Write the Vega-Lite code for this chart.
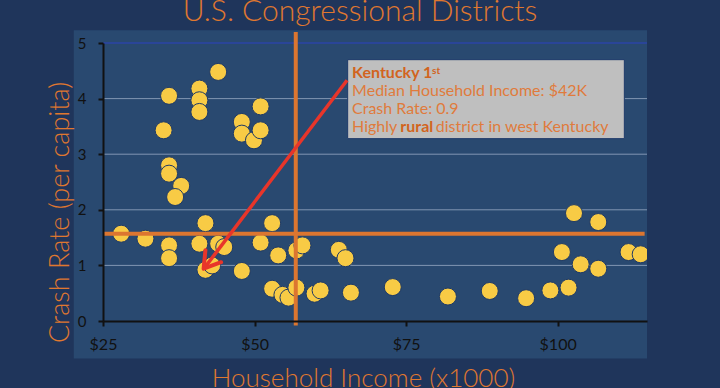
{
  "$schema": "https://vega.github.io/schema/vega-lite/v6.json",
  "width": 544,
  "height": 278,
  "autosize": {"type": "none"},
  "padding": {"left": 103, "top": 43, "right": 73, "bottom": 67},
  "background": "#1f355b",
  "title": {"text": "U.S. Congressional Districts", "font": "Lato", "fontSize": 30, "fontWeight": 300, "color": "#e0782f", "anchor": "middle", "frame": "group", "dx": -15, "dy": 28, "baseline": "alphabetic", "offset": 7},
  "config": {"view": {"stroke": null}},
  "layer": [
    {
      "data": {"values": [{}]},
      "mark": {"type": "rect", "fill": "#294970"},
      "encoding": {
        "x": {"datum": 20.18},
        "x2": {"datum": 114.74},
        "y": {"datum": 5.23},
        "y2": {"datum": -0.676}
      }
    },
    {
      "data": {"values": [{"g": 1}, {"g": 2}, {"g": 3}, {"g": 4}]},
      "mark": {"type": "rule", "color": "#8196b2", "strokeWidth": 1},
      "encoding": {"y": {"field": "g", "type": "quantitative"}}
    },
    {
      "data": {"values": [{}]},
      "mark": {"type": "rule", "color": "#2b44a6", "strokeWidth": 1.5},
      "encoding": {"y": {"datum": 5}}
    },
    {
      "data": {"values": [
        {"income": 28.0, "crash": 1.57}, {"income": 32.0, "crash": 1.48}, {"income": 35.9, "crash": 1.36}, {"income": 35.9, "crash": 1.13},
        {"income": 35.9, "crash": 4.05}, {"income": 35.0, "crash": 3.43}, {"income": 35.9, "crash": 2.80}, {"income": 35.9, "crash": 2.65},
        {"income": 37.9, "crash": 2.43}, {"income": 36.9, "crash": 2.23}, {"income": 40.9, "crash": 4.18}, {"income": 40.9, "crash": 3.97},
        {"income": 40.9, "crash": 3.76}, {"income": 44.0, "crash": 4.48}, {"income": 41.9, "crash": 1.76}, {"income": 40.9, "crash": 1.39},
        {"income": 44.0, "crash": 1.39}, {"income": 45.0, "crash": 1.33}, {"income": 41.9, "crash": 0.92}, {"income": 43.0, "crash": 1.00},
        {"income": 47.9, "crash": 0.90}, {"income": 47.9, "crash": 3.58}, {"income": 47.9, "crash": 3.37}, {"income": 49.9, "crash": 3.25},
        {"income": 51.0, "crash": 3.43}, {"income": 51.0, "crash": 3.86}, {"income": 51.0, "crash": 1.41}, {"income": 52.9, "crash": 1.76},
        {"income": 53.9, "crash": 1.18}, {"income": 52.9, "crash": 0.58}, {"income": 54.6, "crash": 0.47}, {"income": 55.6, "crash": 0.42},
        {"income": 56.9, "crash": 0.60}, {"income": 56.9, "crash": 1.27}, {"income": 57.9, "crash": 1.36}, {"income": 59.9, "crash": 0.49},
        {"income": 60.9, "crash": 0.55}, {"income": 63.9, "crash": 1.28}, {"income": 65.0, "crash": 1.13}, {"income": 65.9, "crash": 0.51},
        {"income": 72.8, "crash": 0.61}, {"income": 81.9, "crash": 0.44}, {"income": 88.8, "crash": 0.54}, {"income": 94.8, "crash": 0.41},
        {"income": 98.8, "crash": 0.55}, {"income": 101.8, "crash": 0.60}, {"income": 100.7, "crash": 1.24}, {"income": 103.8, "crash": 1.02},
        {"income": 106.7, "crash": 0.94}, {"income": 102.7, "crash": 1.94}, {"income": 106.7, "crash": 1.78}, {"income": 111.7, "crash": 1.24},
        {"income": 113.7, "crash": 1.20}
      ]},
      "mark": {"type": "circle", "size": 290, "opacity": 1, "color": "#f8cb45", "stroke": "#1f3a66", "strokeWidth": 1, "clip": true},
      "encoding": {
        "x": {
          "field": "income", "type": "quantitative",
          "scale": {"domain": [25, 114.74], "nice": false, "zero": false},
          "axis": {
            "values": [25, 50, 75, 100], "labelExpr": "'$' + datum.value", "labelFlush": false,
            "title": "Household Income (x1000)", "grid": false, "zindex": 1,
            "domainColor": "#111111", "domainWidth": 2, "tickColor": "#111111", "tickWidth": 2, "tickSize": 5,
            "labelColor": "#111111", "labelFont": "Lato", "labelFontSize": 16, "labelPadding": 10,
            "titleFont": "Lato", "titleFontSize": 26, "titleFontWeight": 300, "titleColor": "#e0782f",
            "titleX": 260, "titleY": 65, "titleBaseline": "alphabetic", "titleAlign": "center"
          }
        },
        "y": {
          "field": "crash", "type": "quantitative",
          "scale": {"domain": [0, 5], "nice": false},
          "axis": {
            "values": [0, 1, 2, 3, 4, 5], "labelFlush": false,
            "title": "Crash Rate (per capita)", "grid": false, "zindex": 1,
            "domainColor": "#111111", "domainWidth": 2, "tickColor": "#111111", "tickWidth": 2, "tickSize": 5,
            "labelColor": "#111111", "labelFont": "Lato", "labelFontSize": 15, "labelPadding": 12,
            "titleFont": "Lato", "titleFontSize": 27, "titleFontWeight": 300, "titleColor": "#e0782f",
            "titleAngle": -90, "titleX": -34.5, "titleY": 169, "titleBaseline": "alphabetic", "titleAlign": "center"
          }
        }
      }
    },
    {
      "data": {"values": [{}]},
      "mark": {"type": "rule", "color": "#dc7630", "strokeWidth": 4},
      "encoding": {
        "x": {"datum": 56.8},
        "y": {"datum": -0.08},
        "y2": {"datum": 5.2}
      }
    },
    {
      "data": {"values": [{}]},
      "mark": {"type": "rule", "color": "#dc7630", "strokeWidth": 4},
      "encoding": {
        "x": {"datum": 25.05},
        "x2": {"datum": 114.35},
        "y": {"datum": 1.57}
      }
    },
    {
      "data": {"values": [{}]},
      "mark": {"type": "rect", "fill": "#bfbfbf", "stroke": "#1e3a6a", "strokeWidth": 1},
      "encoding": {
        "x": {"datum": 65.36},
        "x2": {"datum": 111.0},
        "y": {"datum": 4.70},
        "y2": {"datum": 3.28}
      }
    },
    {
      "data": {"values": [{}]},
      "mark": {"type": "text", "text": "Kentucky 1", "align": "left", "baseline": "alphabetic", "font": "Lato", "fontSize": 16, "fontWeight": "bold", "color": "#d2641e"},
      "encoding": {"x": {"datum": 66.09}, "y": {"datum": 4.378}}
    },
    {
      "data": {"values": [{}]},
      "mark": {"type": "text", "text": "st", "align": "left", "baseline": "alphabetic", "font": "Lato", "fontSize": 10, "fontWeight": "bold", "color": "#d2641e"},
      "encoding": {"x": {"datum": 79.29}, "y": {"datum": 4.45}}
    },
    {
      "data": {"values": [{}]},
      "mark": {"type": "text", "text": "Median Household Income: $42K", "align": "left", "baseline": "alphabetic", "font": "Lato", "fontSize": 16, "color": "#e07b3c"},
      "encoding": {"x": {"datum": 66.09}, "y": {"datum": 4.047}}
    },
    {
      "data": {"values": [{}]},
      "mark": {"type": "text", "text": "Crash Rate: 0.9", "align": "left", "baseline": "alphabetic", "font": "Lato", "fontSize": 16, "color": "#e07b3c"},
      "encoding": {"x": {"datum": 66.09}, "y": {"datum": 3.730}}
    },
    {
      "data": {"values": [{}]},
      "mark": {"type": "text", "text": "Highly", "align": "left", "baseline": "alphabetic", "font": "Lato", "fontSize": 16, "color": "#e07b3c"},
      "encoding": {"x": {"datum": 66.09}, "y": {"datum": 3.399}}
    },
    {
      "data": {"values": [{}]},
      "mark": {"type": "text", "text": "rural", "align": "left", "baseline": "alphabetic", "font": "Lato", "fontSize": 16, "fontWeight": "bold", "color": "#d2641e"},
      "encoding": {"x": {"datum": 74.05}, "y": {"datum": 3.399}}
    },
    {
      "data": {"values": [{}]},
      "mark": {"type": "text", "text": "district in west Kentucky", "align": "left", "baseline": "alphabetic", "font": "Lato", "fontSize": 16, "color": "#e07b3c"},
      "encoding": {"x": {"datum": 79.9}, "y": {"datum": 3.399}}
    },
    {
      "data": {"values": [{}]},
      "mark": {"type": "rule", "color": "#e8352a", "strokeWidth": 3.5},
      "encoding": {
        "x": {"datum": 65.26},
        "y": {"datum": 4.33},
        "x2": {"datum": 41.7},
        "y2": {"datum": 0.95}
      }
    },
    {
      "data": {"values": [{}]},
      "mark": {"type": "point", "shape": "M -1 -0.625 L 0 0 L -1 0.625", "size": 1000, "angle": 127.5, "filled": false, "stroke": "#e8352a", "strokeWidth": 4, "strokeCap": "round", "strokeJoin": "round", "opacity": 1},
      "encoding": {"x": {"datum": 41.6}, "y": {"datum": 0.94}}
    }
  ]
}
